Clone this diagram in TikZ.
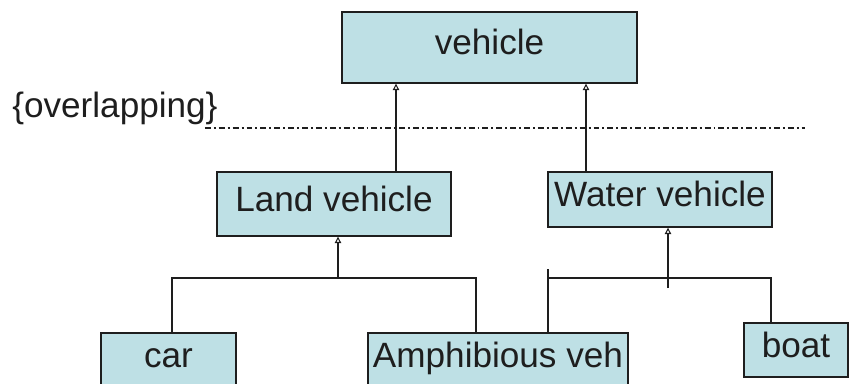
\documentclass[tikz,border=0pt]{standalone}
\usepackage{fontspec}
\setmainfont{Liberation Sans}
\usetikzlibrary{arrows.meta,positioning,calc}
\definecolor{ink}{HTML}{1E1E1E}
\definecolor{pale}{HTML}{BEE0E5}

\tikzset{
  klass/.style={draw=ink, fill=pale, line width=0.8pt, inner sep=0pt,
    text=ink, text height=0.8em, text depth=0pt,
    font=\fontsize{20}{24}\selectfont},
  isa/.style={draw=ink, line width=0.6pt,
    -{Triangle[open, length=3.6pt, width=3.6pt]}},
  link/.style={draw=ink, line width=0.6pt},
  split/.style={draw=ink, line width=0.6pt,
    dash pattern=on 3.4pt off 1.7pt on 1.1pt off 1.7pt}
}

\begin{document}
\begin{tikzpicture}[x=0.02cm, y=-0.02cm]
  \useasboundingbox (0,0) rectangle (851,383);

  % classes
  \node[klass, minimum width=5.9cm, minimum height=1.42cm]
    (vehicle) at (489.5,47.5) {vehicle};
  \node[klass, minimum width=4.68cm, minimum height=1.28cm]
    (land) at (334,204) {Land vehicle};
  \node[klass, minimum width=4.48cm, minimum height=1.1cm]
    (water) at (660,199.5) {Water vehicle};
  \node[klass, minimum width=2.7cm, minimum height=1.08cm]
    (car) at (168.5,360) {car};
  \node[klass, minimum width=5.2cm, minimum height=1.08cm]
    (amph) at (498,360) {Amphibious veh};
  \node[klass, minimum width=2.08cm, minimum height=1.08cm]
    (boat) at (796,350) {boat};

  % constraint
  \node[anchor=base west, inner sep=0pt, text=ink,
    font=\fontsize{20}{24}\selectfont] (overlap) at (12,117) {\{overlapping\}};
  \coordinate (splitend) at (805,128);
  \draw[split] (overlap.base east |- splitend) ++(-13,0) -- (splitend);

  % top level generalisation
  \coordinate (vl) at (396,83);
  \coordinate (vr) at (586,83);
  \draw[isa] (land.north -| vl) -- (vehicle.south -| vl);
  \draw[isa] (water.north -| vr) -- (vehicle.south -| vr);

  % land vehicle tree
  \coordinate (lbar) at (338,278);
  \coordinate (lcar) at (172,278);
  \coordinate (lamph) at (476,278);
  \draw[link] (car.north -| lcar) -- (lcar) -- (lamph) -- (amph.north -| lamph);
  \draw[isa] (lbar) -- (land.south -| lbar);

  % water vehicle tree
  \coordinate (wtip) at (548,269);
  \coordinate (wbar) at (548,278);
  \coordinate (wboat) at (771,278);
  \coordinate (wfoot) at (668,288);
  \draw[link] (wtip) -- (amph.north -| wtip);
  \draw[link] (wbar) -- (wboat) -- (boat.north -| wboat);
  \draw[isa] (wfoot) -- (water.south -| wfoot);
\end{tikzpicture}
\end{document}
